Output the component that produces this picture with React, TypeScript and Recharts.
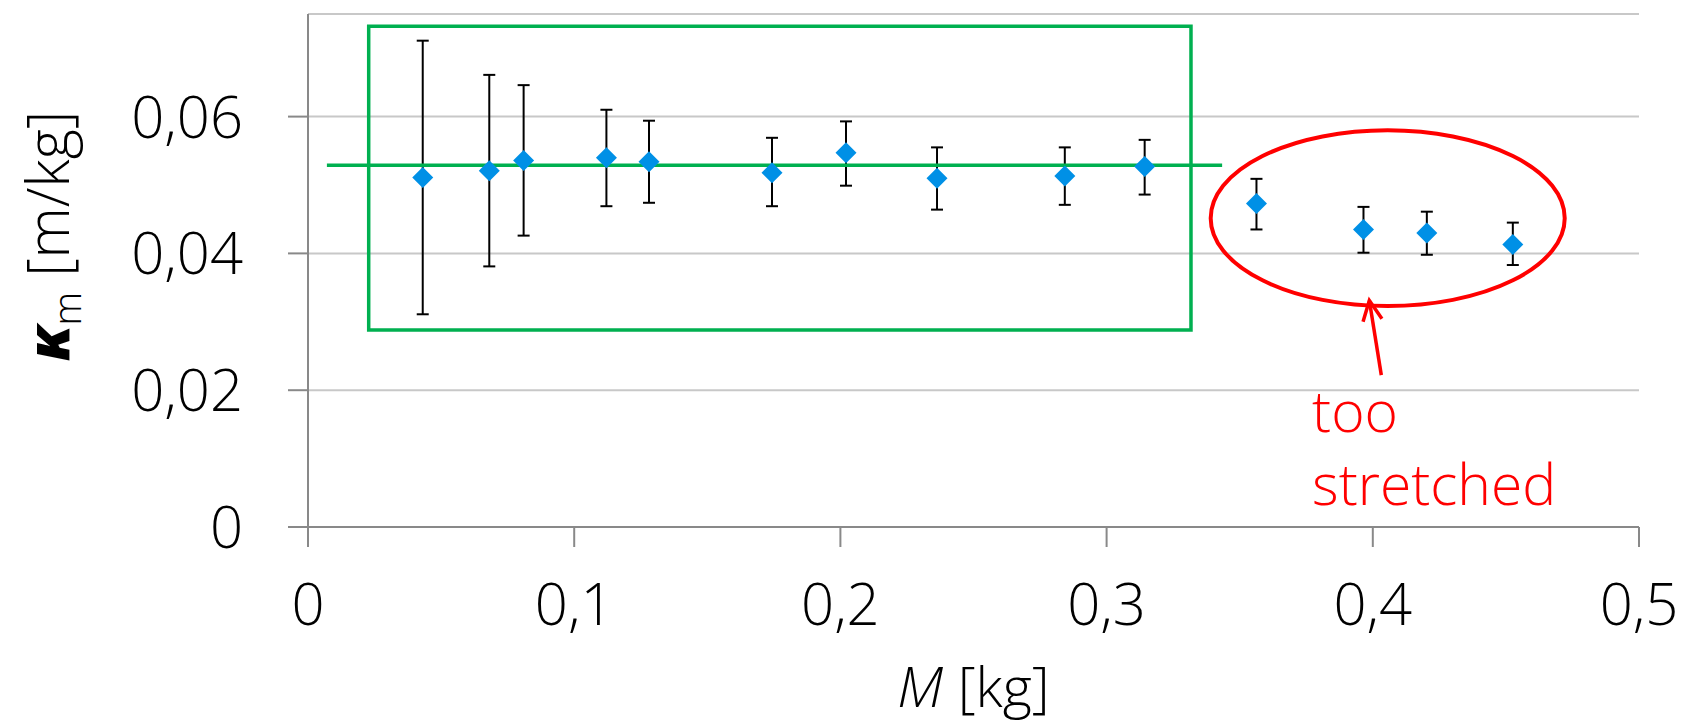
import React from 'react';
import {
  ScatterChart,
  Scatter,
  XAxis,
  YAxis,
  CartesianGrid,
  ErrorBar,
  ReferenceArea,
  ReferenceLine,
  ReferenceDot,
} from 'recharts';

const massKg = [0.0431, 0.0681, 0.081, 0.1121, 0.1281, 0.1743, 0.2021, 0.2363, 0.2843, 0.3143, 0.3563, 0.3965, 0.4203, 0.4526];
const kappa = [0.0511, 0.0521, 0.0536, 0.054, 0.0534, 0.0518, 0.0547, 0.051, 0.0513, 0.0527, 0.0473, 0.0435, 0.043, 0.0413];
const kappaHigh = [0.0711, 0.0661, 0.0646, 0.061, 0.0594, 0.0569, 0.0593, 0.0555, 0.0555, 0.0566, 0.0509, 0.0468, 0.0461, 0.0445];
const kappaLow = [0.0311, 0.0381, 0.0426, 0.0469, 0.0474, 0.0469, 0.0499, 0.0464, 0.0471, 0.0486, 0.0435, 0.0401, 0.0398, 0.0383];

const xTicks = [0, 0.1, 0.2, 0.3, 0.4, 0.5];
const yTicks = [0, 0.02, 0.04, 0.06];

// annotations (data coordinates)
const fitLevel = 0.0529;
const fitRange = [0.0071, 0.3434];
const goodBox = { x1: 0.0228, x2: 0.3317, y1: 0.0288, y2: 0.0732 };
const badEllipse = { x1: 0.3391, x2: 0.4721, y1: 0.0323, y2: 0.058 };
const arrowFrom = { x: 0.4032, y: 0.0222 };
const arrowTo = { x: 0.3987, y: 0.0331 };
const noteAt = { x: 0.3772, y: 0.0139 };

const FONT = '"Open Sans", sans-serif';
const GREEN = '#00B050';
const RED = '#FF0000';
const BLUE = '#0090E6';

const data = massKg.map((m, i) => ({
  m,
  k: kappa[i],
  err: [kappa[i] - kappaLow[i], kappaHigh[i] - kappa[i]],
}));

const fmt = (v: number) => String(v).replace('.', ',');

const Diamond = (props: any) => {
  const { cx, cy } = props;
  const s = 10.5;
  return (
    <polygon
      points={`${cx},${cy - s} ${cx + s},${cy} ${cx},${cy + s} ${cx - s},${cy}`}
      fill={BLUE}
    />
  );
};

const XTick = (props: any) => {
  const { x, y, payload } = props;
  return (
    <text x={x} y={y + 76} textAnchor="middle" fontFamily={FONT} fontWeight={300} fontSize={58} fill="#000">
      {fmt(payload.value)}
    </text>
  );
};

const YTick = (props: any) => {
  const { x, y, payload } = props;
  return (
    <text x={x - 43} y={y + 21} textAnchor="end" fontFamily={FONT} fontWeight={300} fontSize={58} fill="#000">
      {fmt(payload.value)}
    </text>
  );
};

const XTitle = (props: any) => {
  const { viewBox } = props;
  const cx = viewBox.x + viewBox.width / 2;
  return (
    <text x={cx} y={viewBox.y + 180} textAnchor="middle" fontFamily={FONT} fontWeight={300} fontSize={56} fill="#000">
      <tspan fontStyle="italic">M</tspan>
      <tspan> [kg]</tspan>
    </text>
  );
};

const YTitle = (props: any) => {
  const { viewBox } = props;
  const cx = 69;
  const cy = viewBox.y + 222;
  return (
    <text
      x={cx}
      y={cy}
      transform={`rotate(-90, ${cx}, ${cy})`}
      textAnchor="middle"
      fontFamily={FONT}
      fontWeight={300}
      fontSize={58}
      fill="#000"
    >
      <tspan fontWeight={800} fontStyle="italic">κ</tspan>
      <tspan fontSize={38} dy={12}>m</tspan>
      <tspan dy={-12}> [m/kg]</tspan>
    </text>
  );
};

const EllipseShape = (props: any) => {
  const { x, y, width, height } = props;
  return (
    <ellipse
      cx={x + width / 2}
      cy={y + height / 2}
      rx={width / 2}
      ry={height / 2}
      fill="none"
      stroke={RED}
      strokeWidth={4}
    />
  );
};

const ArrowShape = (props: any) => {
  const { x1, y1, x2, y2 } = props;
  const ang = Math.atan2(y2 - y1, x2 - x1);
  const len = 22;
  const spread = 0.45;
  const ax = x2 - len * Math.cos(ang - spread);
  const ay = y2 - len * Math.sin(ang - spread);
  const bx = x2 - len * Math.cos(ang + spread);
  const by = y2 - len * Math.sin(ang + spread);
  return (
    <g stroke={RED} strokeWidth={3.5} fill="none">
      <line x1={x1} y1={y1} x2={x2} y2={y2} />
      <polyline points={`${ax},${ay} ${x2},${y2} ${bx},${by}`} />
    </g>
  );
};

const NoteShape = (props: any) => {
  const { cx, cy } = props;
  return (
    <text x={cx} y={cy} fontFamily={FONT} fontWeight={300} fontSize={57} fill={RED}>
      <tspan x={cx}>too</tspan>
      <tspan x={cx} dy={73}>stretched</tspan>
    </text>
  );
};

export default function App() {
  return (
    <div style={{ margin: -8 }}>
      <ScatterChart
        width={1683}
        height={728}
        margin={{ top: 14, right: 44, left: 0, bottom: 0 }}
      >
        <CartesianGrid vertical={false} stroke="#C8C8C8" strokeWidth={2} />
        <XAxis
          type="number"
          dataKey="m"
          domain={[0, 0.5]}
          ticks={xTicks}
          height={201}
          tickSize={20}
          stroke="#898989"
          strokeWidth={2}
          tick={<XTick />}
          label={(p: any) => <XTitle {...p} />}
        />
        <YAxis
          type="number"
          dataKey="k"
          domain={[0, 0.075]}
          ticks={yTicks}
          width={308}
          tickSize={20}
          stroke="#898989"
          strokeWidth={2}
          tick={<YTick />}
          label={(p: any) => <YTitle {...p} />}
        />
        <ReferenceArea
          x1={goodBox.x1}
          x2={goodBox.x2}
          y1={goodBox.y1}
          y2={goodBox.y2}
          fill="none"
          fillOpacity={0}
          stroke={GREEN}
          strokeWidth={3.5}
        />
        <ReferenceArea
          x1={badEllipse.x1}
          x2={badEllipse.x2}
          y1={badEllipse.y1}
          y2={badEllipse.y2}
          shape={(p: any) => <EllipseShape {...p} />}
        />
        <Scatter data={data} shape={<Diamond />} isAnimationActive={false}>
          <ErrorBar dataKey="err" direction="y" width={6} stroke="#000" strokeWidth={2} />
        </Scatter>
        <ReferenceLine
          segment={[
            { x: fitRange[0], y: fitLevel },
            { x: fitRange[1], y: fitLevel },
          ]}
          stroke={GREEN}
          strokeWidth={3.5}
        />
        <ReferenceLine
          segment={[
            { x: arrowFrom.x, y: arrowFrom.y },
            { x: arrowTo.x, y: arrowTo.y },
          ]}
          shape={(p: any) => <ArrowShape {...p} />}
        />
        <ReferenceDot x={noteAt.x} y={noteAt.y} r={0} shape={(p: any) => <NoteShape {...p} />} />
      </ScatterChart>
    </div>
  );
}
